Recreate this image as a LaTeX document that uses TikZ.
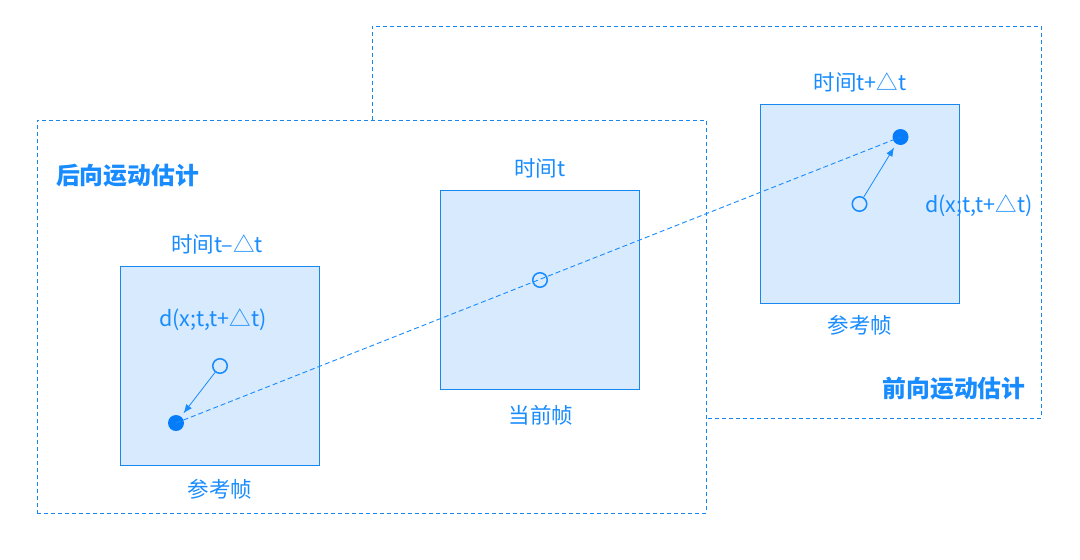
\documentclass[tikz,border=0pt]{standalone}
\usepackage{fontspec}
\setmainfont{Noto Sans CJK SC}
\usetikzlibrary{arrows.meta}
\definecolor{mblue}{RGB}{24,136,240}
\definecolor{tblue}{RGB}{24,140,255}
\definecolor{dblue}{RGB}{5,125,250}
\definecolor{bfill}{RGB}{216,234,253}
\begin{document}
\begin{tikzpicture}[x=1pt,y=-1pt,
  frame/.style={draw=mblue,line width=0.9pt,dash pattern=on 4pt off 3pt,fill=white,minimum width=669pt,minimum height=393pt,inner sep=0pt},
  frm/.style={draw=mblue,line width=1pt,fill=bfill,minimum size=199pt,inner sep=0pt},
  lbl/.style={text=tblue,font=\fontsize{21.5}{25}\selectfont,inner sep=0pt},
  ttl/.style={text=tblue,font=\fontsize{23.8}{28}\selectfont\bfseries,inner sep=0pt},
  ocirc/.style={circle,draw=tblue,line width=1.5pt,minimum size=14.5pt,inner sep=0pt},
  fdot/.style={circle,fill=dblue,minimum size=16pt,inner sep=0pt},
  arr/.style={draw=tblue,line width=0.8pt,-{Latex[length=9pt,width=7pt]}}
]
\useasboundingbox (0,0) rectangle (1080,560);
% frames
\node[frame,minimum height=392pt] (fwd) at (706.5,222) {};
\node[frame] (bwd) at (371.5,316.5) {};
% boxes
\node[frm] (lbox) at (220,365.5) {};
\node[frm] (mbox) at (540,290) {};
\node[frm] (rbox) at (860,203.5) {};
% labels
\node[ttl] (tb) at (127.5,176) {后向运动估计};
\node[ttl] (tf) at (954,389) {前向运动估计};
\node[lbl] (l1) at (217,244) {时间t–△t};
\node[lbl] (l2) at (213,320) {d(x;t,t+△t)};
\node[lbl] (l3) at (220,489) {参考帧};
\node[lbl] (m1) at (540,168) {时间t};
\node[lbl] (m2) at (541,415) {当前帧};
\node[lbl] (r1) at (860,82.5) {时间t+△t};
\node[lbl] (r2) at (979,205.5) {d(x;t,t+△t)};
\node[lbl] (r3) at (860,325.5) {参考帧};
% points
\node[ocirc,fill=bfill] (oc1) at (220,366) {};
\node[fdot] (d1) at (176,423) {};
\node[ocirc] (oc2) at (540,280) {};
\node[ocirc,fill=bfill] (oc3) at (859.5,204) {};
\node[fdot] (d2) at (900.5,137) {};
% connectors
\draw[tblue,line width=0.9pt,dash pattern=on 5pt off 3pt] (d1.center) -- (d2.center);
\draw[arr,shorten >=4pt] (oc1) -- (d1);
\draw[arr,shorten >=4pt] (oc3) -- (d2);
\end{tikzpicture}
\end{document}
